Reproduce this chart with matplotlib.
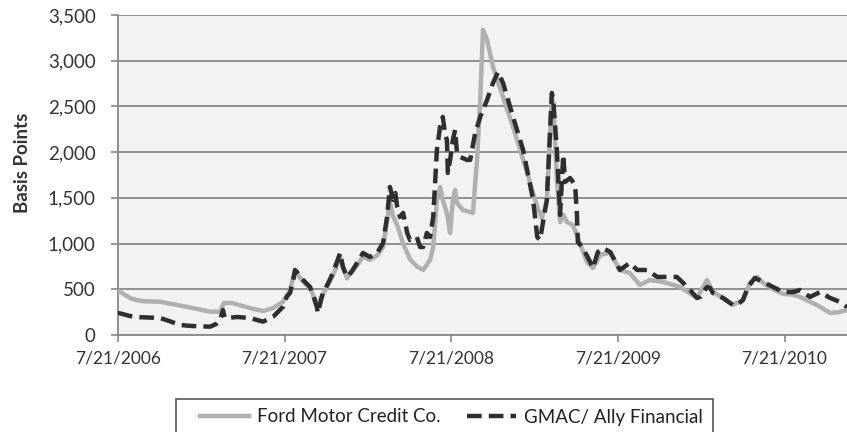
import matplotlib
matplotlib.use("Agg")
import matplotlib.pyplot as plt
from matplotlib.patches import Rectangle
import pandas as pd

plt.rcParams["font.family"] = ["Lato", "DejaVu Sans"]

start = pd.Timestamp("2006-07-21")
end_days = 1598

# days after 7/21/2006, spread in basis points
ford_days = [0, 4, 26, 40, 55, 92, 130, 164, 202, 224, 232, 250, 289, 318, 340, 362,
             377, 388, 395, 410, 421, 436, 449, 471, 487, 502, 524, 537, 552, 568,
             581, 596, 603, 612, 625, 640, 655, 669, 684, 691, 699, 706, 712, 721,
             728, 734, 739, 743, 756, 778, 787, 794, 800, 809, 822, 866, 897, 919,
             929, 940, 951, 954, 962, 969, 976, 984, 997, 1006, 1028, 1041, 1057,
             1079, 1100, 1122, 1144, 1166, 1195, 1232, 1269, 1291, 1304, 1326, 1348,
             1370, 1385, 1401, 1414, 1436, 1458, 1480, 1495, 1510, 1532, 1561, 1580,
             1598]
ford_bp = [480, 474, 405, 383, 370, 364, 328, 295, 255, 255, 350, 350, 295, 262, 295,
           364, 492, 700, 650, 560, 520, 330, 440, 650, 850, 620, 760, 860, 820, 870,
           960, 1450, 1300, 1200, 1000, 830, 750, 711, 820, 963, 1477, 1619, 1477,
           1335, 1116, 1477, 1586, 1444, 1368, 1335, 1915, 2571, 3337, 3228, 2932,
           2276, 1772, 1400, 1280, 1455, 2593, 2550, 1700, 1236, 1313, 1236, 1203,
           1094, 799, 733, 875, 900, 711, 678, 547, 602, 580, 525, 405, 602, 470, 405,
           330, 383, 569, 635, 570, 500, 450, 440, 416, 380, 328, 241, 250, 273]

gmac_days = [0, 4, 26, 48, 70, 92, 114, 136, 164, 202, 215, 224, 230, 234, 239, 261,
             289, 318, 340, 362, 370, 377, 384, 388, 392, 399, 410, 421, 430, 436,
             438, 449, 460, 471, 487, 493, 502, 513, 524, 537, 552, 568, 581, 590,
             596, 603, 608, 612, 618, 625, 634, 640, 655, 662, 669, 677, 684, 691,
             699, 706, 712, 717, 721, 723, 728, 734, 739, 743, 750, 765, 772, 783,
             794, 809, 822, 833, 844, 866, 888, 910, 919, 925, 940, 951, 954, 962,
             966, 969, 976, 980, 991, 1002, 1006, 1008, 1019, 1035, 1041, 1052, 1063,
             1079, 1094, 1100, 1122, 1138, 1160, 1182, 1204, 1225, 1239, 1254, 1269,
             1276, 1291, 1298, 1304, 1326, 1348, 1357, 1370, 1381, 1396, 1414, 1436,
             1458, 1480, 1495, 1517, 1539, 1561, 1583, 1598]
gmac_bp = [240, 237, 208, 195, 190, 186, 150, 109, 98, 91, 120, 164, 273, 190, 186,
           197, 186, 146, 200, 310, 420, 459, 600, 711, 690, 635, 580, 525, 400, 306,
           240, 459, 560, 678, 897, 744, 635, 700, 788, 897, 853, 897, 1006, 1300,
           1619, 1477, 1553, 1400, 1291, 1335, 1116, 1039, 1072, 963, 963, 1116, 1072,
           1291, 2024, 2276, 2385, 2200, 2133, 1772, 1915, 2133, 2243, 1991, 1947,
           1915, 1915, 2210, 2385, 2571, 2757, 2877, 2757, 2385, 2024, 1477, 1072,
           1039, 1477, 2647, 2571, 2024, 1608, 1313, 1969, 1674, 1717, 1641, 1313,
           1017, 952, 799, 733, 908, 952, 908, 766, 711, 788, 711, 711, 635, 635, 635,
           569, 492, 405, 416, 525, 514, 459, 405, 328, 328, 383, 525, 624, 580, 525,
           470, 470, 492, 416, 470, 405, 361, 306]

tick_dates = ["2006-07-21", "2007-07-21", "2008-07-21", "2009-07-21", "2010-07-21"]
tick_labels = ["7/21/2006", "7/21/2007", "7/21/2008", "7/21/2009", "7/21/2010"]
y_ticks = [0, 500, 1000, 1500, 2000, 2500, 3000, 3500]

ford_dates = start + pd.to_timedelta(ford_days, unit="D")
gmac_dates = start + pd.to_timedelta(gmac_days, unit="D")

fig = plt.figure(figsize=(8.47, 4.32), dpi=100)
ax = fig.add_axes([118 / 847, 1 - 335 / 432, 1 - 118 / 847, 320 / 432])
ax.set_facecolor("#f2f2f2")

ax.plot(ford_dates, ford_bp, color="#b0b0b0", lw=3.2, solid_joinstyle="round",
        label="Ford Motor Credit Co.", zorder=3)
ax.plot(gmac_dates, gmac_bp, color="#2e2e2e", lw=3.2, dashes=(3.3, 1.6),
        label="GMAC/ Ally Financial", zorder=4)

ax.set_xlim(start, start + pd.Timedelta(days=end_days))
ax.set_ylim(0, 3500)
ax.set_yticks(y_ticks)
ax.set_yticklabels([f"{v:,}" for v in y_ticks])
ax.set_xticks(pd.to_datetime(tick_dates))
ax.set_xticklabels(tick_labels)

ax.grid(axis="y", color="#888888", lw=1.3)
ax.set_axisbelow(True)
for side in ["top", "right"]:
    ax.spines[side].set_visible(False)
for side in ["left", "bottom"]:
    ax.spines[side].set_color("#888888")
    ax.spines[side].set_linewidth(1.3)
ax.tick_params(axis="both", colors="#888888", length=5, width=1.2,
               labelcolor="#333333")
ax.tick_params(axis="x", labelsize=12.5, pad=6)
ax.tick_params(axis="y", labelsize=13.5, pad=11)

fig.text(22 / 847, 1 - 163 / 432, "Basis Points", rotation=90, ha="center",
         va="center", fontsize=13.5, fontweight="bold", color="#333333")

leg = fig.legend(loc="center left", bbox_to_anchor=(200 / 847, 1 - 417 / 432),
                 ncol=2, frameon=False, fontsize=13.5, handlelength=2.6,
                 handletextpad=0.45, borderpad=0, columnspacing=1.4,
                 borderaxespad=0)
for t in leg.get_texts():
    t.set_color("#222222")

fig.patches.append(Rectangle((176 / 847, -0.05), 537 / 847, 0.05 + 1 - 399 / 432,
                             transform=fig.transFigure, fill=False,
                             edgecolor="#555555", lw=1.2))

fig.savefig("out.png", dpi=100)
